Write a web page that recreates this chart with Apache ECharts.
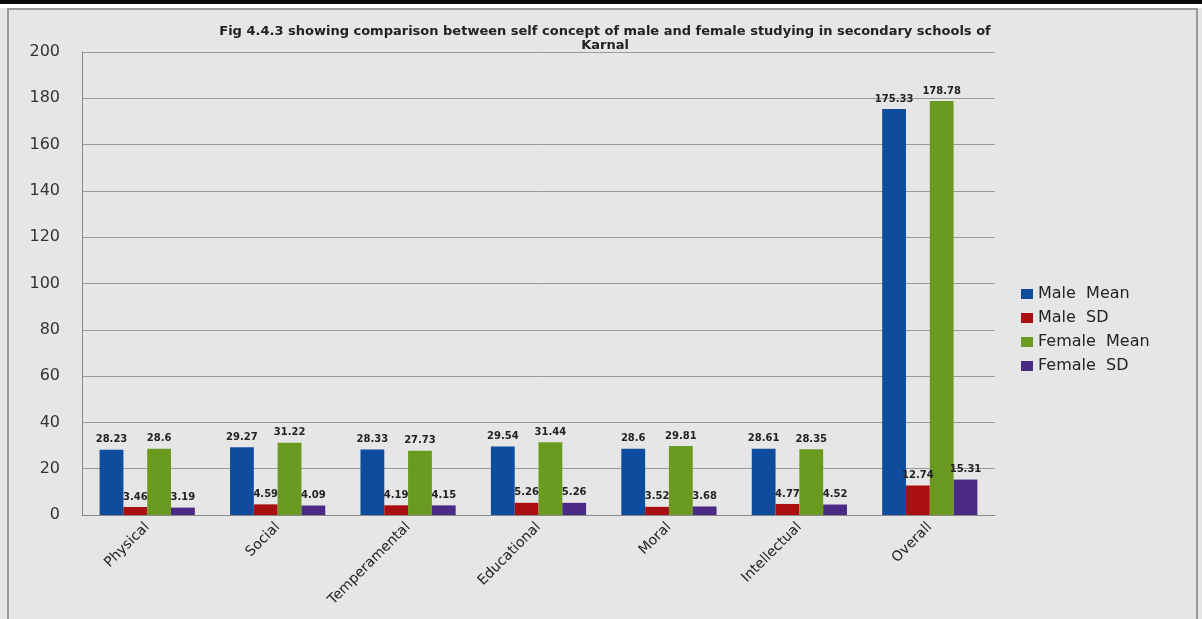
<!DOCTYPE html>
<html><head><meta charset="utf-8">
<script src="https://cdn.jsdelivr.net/npm/echarts@6/dist/echarts.min.js"></script>
<style>html,body{margin:0;padding:0;background:#fff}#c{width:1202px;height:619px}</style>
</head><body><div id="c"></div>
<script>
const categories = ['Physical','Social','Temperamental','Educational','Moral','Intellectual','Overall'];
const maleMean   = [28.23, 29.27, 28.33, 29.54, 28.6, 28.61, 175.33];
const maleSD     = [3.46, 4.59, 4.19, 5.26, 3.52, 4.77, 12.74];
const femaleMean = [28.6, 31.22, 27.73, 31.44, 29.81, 28.35, 178.78];
const femaleSD   = [3.19, 4.09, 4.15, 5.26, 3.68, 4.52, 15.31];
const seriesNames = ['Male  Mean','Male  SD','Female  Mean','Female  SD'];
const colors = ['#0e4d9e','#a90f10','#6a9a1f','#4a2a85'];
const yTicks = [0,20,40,60,80,100,120,140,160,180,200];

const chart = echarts.init(document.getElementById('c'));
const data = [maleMean, maleSD, femaleMean, femaleSD];
chart.setOption({
  backgroundColor: '#e6e6e6',
  animation: false,
  title: {
    text: 'Fig 4.4.3 showing comparison between self concept of male and female studying in secondary schools of\nKarnal',
    left: 600, top: 20, textAlign: 'center',
    textStyle: {fontFamily: 'DejaVu Sans', fontSize: 13, fontWeight: 'bold', color: '#222', lineHeight: 14}
  },
  graphic: [
    {type: 'rect', shape: {x: 0, y: 0, width: 1202, height: 4}, style: {fill: '#0a0a0a'}, z: 10},
    {type: 'rect', shape: {x: 0, y: 4, width: 1202, height: 4}, style: {fill: '#ffffff'}, z: 10},
    {type: 'rect', shape: {x: 8, y: 9, width: 1189, height: 640}, style: {fill: 'none', stroke: '#9a9a9a', lineWidth: 2}, z: 10}
  ],
  legend: {
    orient: 'vertical', left: 1016, top: 281, itemGap: 8,
    itemWidth: 12, itemHeight: 10, icon: 'rect',
    textStyle: {fontFamily: 'DejaVu Sans', fontSize: 16, color: '#222'},
    data: seriesNames
  },
  grid: {left: 82, right: 207, top: 52, bottom: 104},
  xAxis: {
    type: 'category', data: categories,
    axisLine: {lineStyle: {color: '#888'}},
    axisTick: {show: false},
    axisLabel: {rotate: 45, fontFamily: 'DejaVu Sans', fontSize: 14, color: '#222', margin: 10, interval: 0}
  },
  yAxis: {
    type: 'value', min: 0, max: 200, interval: 20,
    axisLine: {show: true, lineStyle: {color: '#888'}},
    axisTick: {show: false},
    axisLabel: {fontFamily: 'DejaVu Sans', fontSize: 16, color: '#333', margin: 22,
      formatter: v => yTicks.includes(v) ? String(v) : ''},
    splitLine: {lineStyle: {color: '#999', width: 1}}
  },
  series: data.map((d, i) => ({
    name: seriesNames[i], type: 'bar', data: d,
    barGap: '0%', barCategoryGap: '27%',
    itemStyle: {color: colors[i]},
    label: {show: true, position: 'top', distance: 5, fontFamily: 'DejaVu Sans', fontSize: 10, fontWeight: 'bold', color: '#222'}
  }))
});
</script></body></html>
